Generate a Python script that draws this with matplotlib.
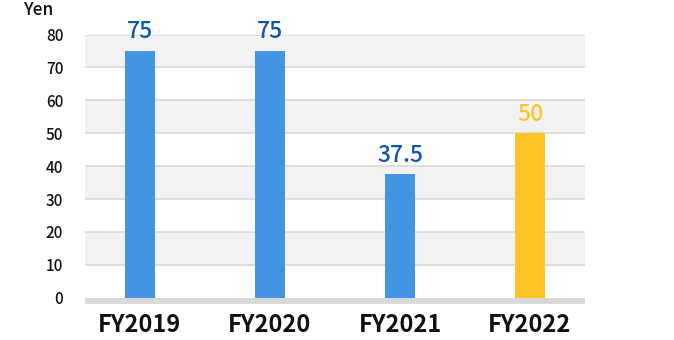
import matplotlib
matplotlib.use("Agg")
import matplotlib.pyplot as plt

plt.rcParams['font.family'] = ['Noto Sans CJK JP', 'DejaVu Sans']

categories = ["FY2019", "FY2020", "FY2021", "FY2022"]
values = [75, 75, 37.5, 50]
value_labels = ["75", "75", "37.5", "50"]
bar_colors = ["#4494E4", "#4494E4", "#4494E4", "#FFC426"]
label_colors = ["#0E58A8", "#0E58A8", "#0E58A8", "#FFC426"]
yticks = [0, 10, 20, 30, 40, 50, 60, 70, 80]
unit_label = "Yen"

fig = plt.figure(figsize=(6.74, 3.40), dpi=100)
ax = fig.add_axes([85/674, (340-303.7)/340, 500/674, (303.7-34.5)/340])

ax.set_ylim(-1.82, 80)
ax.set_xlim(-0.423, len(categories) - 1 + 0.423)

# alternating bands
for lo in (10, 30, 50, 70):
    ax.axhspan(lo, lo + 10, color="#F2F2F2", zorder=0, lw=0)
# gridlines
for t in yticks[1:]:
    ax.axhline(t, color="#D9D9D9", lw=1.2, zorder=1)
# bottom base bar
ax.axhspan(-1.82, 0, color="#D9D9D9", zorder=1, lw=0)

x = list(range(len(categories)))
ax.bar(x, values, width=0.23, color=bar_colors, zorder=2)

for xi, v, lab, c in zip(x, values, value_labels, label_colors):
    ax.annotate(lab, (xi, v), xytext=(0, 9), textcoords="offset points",
                ha="center", va="baseline", fontsize=16.5, fontweight="medium",
                color=c, clip_on=False)

for s in ax.spines.values():
    s.set_visible(False)
ax.set_xticks(x)
ax.set_xticklabels(categories, fontsize=17, fontweight="bold", color="#111111")
ax.set_yticks(yticks)
ax.set_yticklabels([str(t) for t in yticks], fontsize=11, fontweight="medium",
                   color="#111111")
ax.tick_params(axis="both", length=0)
ax.tick_params(axis="y", pad=15.6)
ax.tick_params(axis="x", pad=7)

fig.text(23/674, (340-15)/340, unit_label, fontsize=12.5, fontweight="medium",
         color="#111111", ha="left", va="baseline")

fig.savefig("out.png", dpi=100)
